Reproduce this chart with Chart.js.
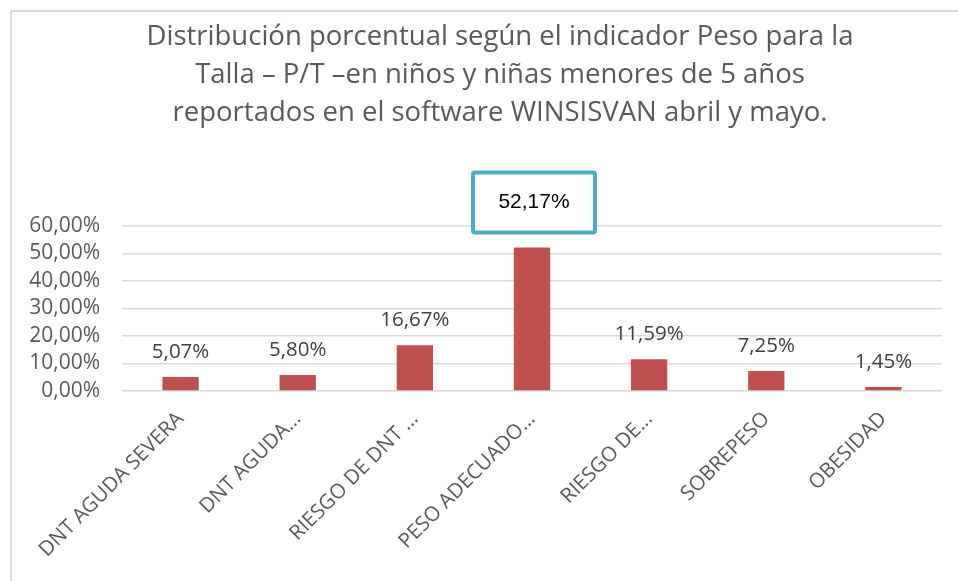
<!DOCTYPE html>
<html>
<head>
<meta charset="utf-8">
<script src="https://cdn.jsdelivr.net/npm/chart.js@4.4.1/dist/chart.umd.min.js"></script>
<style>
  html, body { margin: 0; padding: 0; background: #fff; }
  canvas { display: block; }
</style>
</head>
<body>
<canvas id="myChart" width="958" height="581"></canvas>
<script>
const titleLines = [
  'Distribución porcentual según el indicador Peso para la',
  'Talla – P/T –en niños y niñas menores de 5 años',
  'reportados en el software WINSISVAN abril y mayo.',
];
const categories = [
  'DNT AGUDA SEVERA',
  'DNT AGUDA…',
  'RIESGO DE DNT …',
  'PESO ADECUADO…',
  'RIESGO DE…',
  'SOBREPESO',
  'OBESIDAD',
];
const percentages = [5.07, 5.80, 16.67, 52.17, 11.59, 7.25, 1.45];
const highlightIndex = 3;

const fmt = (v) => v.toFixed(2).replace('.', ',') + '%';

// frame, title and value labels
const decorations = {
  id: 'decorations',
  beforeDraw(chart) {
    const c = chart.ctx;
    c.save();
    c.strokeStyle = '#d9d9d9';
    c.lineWidth = 2;
    c.beginPath();
    c.moveTo(11, chart.height);
    c.lineTo(11, 11);
    c.lineTo(chart.width, 11);
    c.stroke();

    c.fillStyle = '#595959';
    c.font = '27.5px "Open Sans"';
    c.textAlign = 'center';
    c.textBaseline = 'middle';
    titleLines.forEach((line, i) => c.fillText(line, 500, 37 + i * 38));
    c.restore();
  },
  afterDatasetsDraw(chart) {
    const c = chart.ctx;
    const meta = chart.getDatasetMeta(0);
    c.save();
    c.textAlign = 'center';
    c.textBaseline = 'middle';
    meta.data.forEach((bar, i) => {
      const txt = fmt(percentages[i]);
      if (i === highlightIndex) {
        const cx = bar.x + 2, cy = bar.y - 45;
        c.strokeStyle = '#4bacc6';
        c.lineWidth = 4;
        c.beginPath();
        c.roundRect(cx - 61, cy - 30, 122, 60, 2);
        c.fillStyle = '#fff';
        c.fill();
        c.stroke();
        c.fillStyle = '#000';
        c.font = '21px "Liberation Sans"';
        c.fillText(txt, cx, cy);
      } else {
        c.fillStyle = '#404040';
        c.font = '20.5px "Open Sans"';
        c.fillText(txt, bar.x, bar.y - 25);
      }
    });
    c.restore();
  },
};

const ctx = document.getElementById('myChart').getContext('2d');
const myChart = new Chart(ctx, {
  type: 'bar',
  data: {
    labels: categories,
    datasets: [
      {
        data: percentages,
        backgroundColor: '#c0504d',
        barPercentage: 0.31,
        categoryPercentage: 1,
      },
    ],
  },
  options: {
    responsive: false,
    animation: false,
    layout: { padding: { top: 226, right: 16, left: 0, bottom: 0 } },
    plugins: {
      legend: { display: false },
      tooltip: { enabled: false },
    },
    scales: {
      x: {
        grid: { display: false },
        border: { display: false },
        ticks: {
          color: '#595959',
          font: { family: 'Open Sans', size: 20.5 },
          minRotation: 45,
          maxRotation: 45,
          autoSkip: false,
          padding: 8,
        },
        afterFit(scale) { scale.height = 190; },
      },
      y: {
        min: 0,
        max: 60,
        border: { display: false },
        grid: { color: '#d9d9d9', lineWidth: 1.5, drawTicks: false },
        ticks: {
          stepSize: 10,
          autoSkip: false,
          color: '#595959',
          font: { family: 'Open Sans', size: 21, lineHeight: 1 },
          padding: 22,
          callback: (v) => fmt(v),
        },
        afterFit(scale) { scale.width = 122; },
      },
    },
  },
  plugins: [decorations],
});
</script>
</body>
</html>
